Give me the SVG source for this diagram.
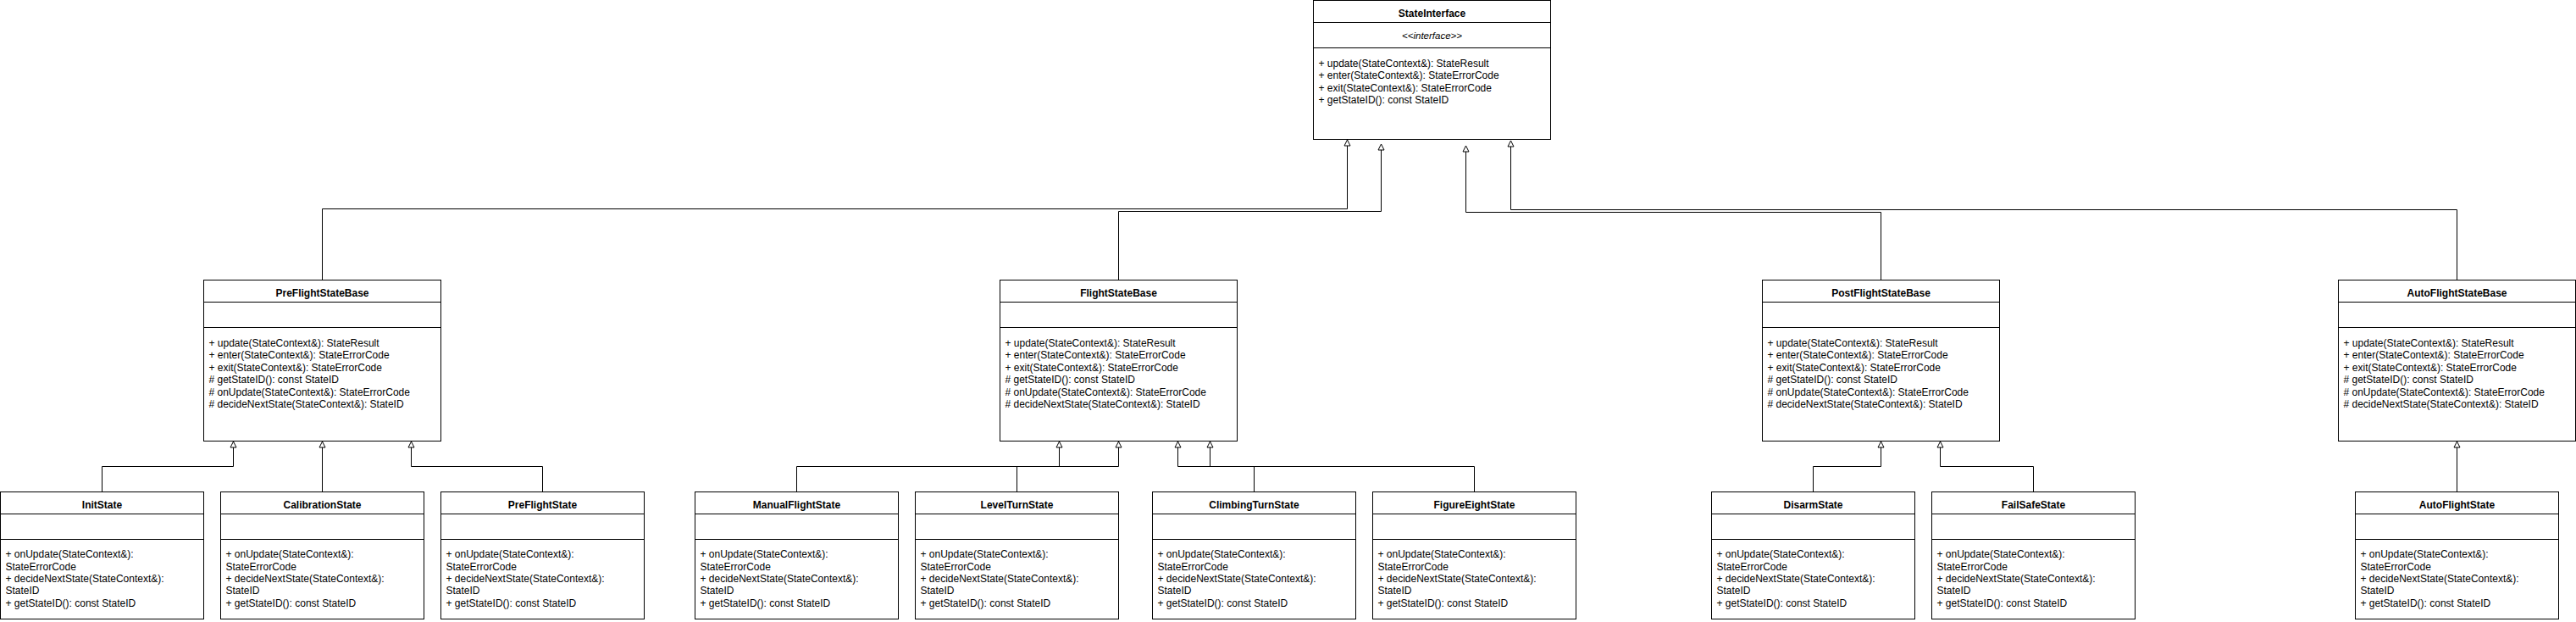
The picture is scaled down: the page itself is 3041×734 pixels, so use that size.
<svg xmlns="http://www.w3.org/2000/svg" width="3041" height="734" viewBox="0 0 3041 734">
<style>
.box{fill:#fff;stroke:#000;stroke-width:1}
.sep{stroke:#000;stroke-width:1;fill:none}
.t{font-family:"Liberation Sans",Arial,sans-serif;font-size:12px;fill:#000}
.title{font-weight:bold;text-anchor:middle}
.st{font-style:italic;text-anchor:middle;font-size:11.5px}
.conn path{fill:none;stroke:#000;stroke-width:1;marker-end:url(#tri)}
</style>
<defs>
<marker id="tri" markerUnits="userSpaceOnUse" viewBox="-8 -4.5 9 9" refX="0" refY="0" markerWidth="9" markerHeight="9" orient="auto">
<path d="M0,0 L-7,-3.5 L-7,3.5 Z" fill="#fff" stroke="#000" stroke-width="1"/>
</marker>
</defs>
<rect width="3041" height="734" fill="#fff"/>

<g id="StateInterface">
<rect class="box" x="1550.5" y="0.5" width="280" height="164"/>
<path class="sep" d="M1550.5 26.5H1830.5M1550.5 56.5H1830.5"/>
<text class="t title" x="1690.5" y="20">StateInterface</text>
<text class="t st" x="1690.5" y="45.5">&lt;&lt;interface&gt;&gt;</text>
<text class="t" x="1556.5" y="79">+ update(StateContext&amp;): StateResult</text>
<text class="t" x="1556.5" y="93.4">+ enter(StateContext&amp;): StateErrorCode</text>
<text class="t" x="1556.5" y="107.8">+ exit(StateContext&amp;): StateErrorCode</text>
<text class="t" x="1556.5" y="122.2">+ getStateID(): const StateID</text>
</g>

<g id="PreFlightStateBase">
<rect class="box" x="240.5" y="330.5" width="280" height="190"/>
<path class="sep" d="M240.5 356.5H520.5M240.5 386.5H520.5"/>
<text class="t title" x="380.5" y="349.5">PreFlightStateBase</text>
<text class="t" x="246.5" y="409">+ update(StateContext&amp;): StateResult</text>
<text class="t" x="246.5" y="423.4">+ enter(StateContext&amp;): StateErrorCode</text>
<text class="t" x="246.5" y="437.8">+ exit(StateContext&amp;): StateErrorCode</text>
<text class="t" x="246.5" y="452.2"># getStateID(): const StateID</text>
<text class="t" x="246.5" y="466.6"># onUpdate(StateContext&amp;): StateErrorCode</text>
<text class="t" x="246.5" y="481"># decideNextState(StateContext&amp;): StateID</text>
</g>

<g id="FlightStateBase">
<rect class="box" x="1180.5" y="330.5" width="280" height="190"/>
<path class="sep" d="M1180.5 356.5H1460.5M1180.5 386.5H1460.5"/>
<text class="t title" x="1320.5" y="349.5">FlightStateBase</text>
<text class="t" x="1186.5" y="409">+ update(StateContext&amp;): StateResult</text>
<text class="t" x="1186.5" y="423.4">+ enter(StateContext&amp;): StateErrorCode</text>
<text class="t" x="1186.5" y="437.8">+ exit(StateContext&amp;): StateErrorCode</text>
<text class="t" x="1186.5" y="452.2"># getStateID(): const StateID</text>
<text class="t" x="1186.5" y="466.6"># onUpdate(StateContext&amp;): StateErrorCode</text>
<text class="t" x="1186.5" y="481"># decideNextState(StateContext&amp;): StateID</text>
</g>

<g id="PostFlightStateBase">
<rect class="box" x="2080.5" y="330.5" width="280" height="190"/>
<path class="sep" d="M2080.5 356.5H2360.5M2080.5 386.5H2360.5"/>
<text class="t title" x="2220.5" y="349.5">PostFlightStateBase</text>
<text class="t" x="2086.5" y="409">+ update(StateContext&amp;): StateResult</text>
<text class="t" x="2086.5" y="423.4">+ enter(StateContext&amp;): StateErrorCode</text>
<text class="t" x="2086.5" y="437.8">+ exit(StateContext&amp;): StateErrorCode</text>
<text class="t" x="2086.5" y="452.2"># getStateID(): const StateID</text>
<text class="t" x="2086.5" y="466.6"># onUpdate(StateContext&amp;): StateErrorCode</text>
<text class="t" x="2086.5" y="481"># decideNextState(StateContext&amp;): StateID</text>
</g>

<g id="AutoFlightStateBase">
<rect class="box" x="2760.5" y="330.5" width="280" height="190"/>
<path class="sep" d="M2760.5 356.5H3040.5M2760.5 386.5H3040.5"/>
<text class="t title" x="2900.5" y="349.5">AutoFlightStateBase</text>
<text class="t" x="2766.5" y="409">+ update(StateContext&amp;): StateResult</text>
<text class="t" x="2766.5" y="423.4">+ enter(StateContext&amp;): StateErrorCode</text>
<text class="t" x="2766.5" y="437.8">+ exit(StateContext&amp;): StateErrorCode</text>
<text class="t" x="2766.5" y="452.2"># getStateID(): const StateID</text>
<text class="t" x="2766.5" y="466.6"># onUpdate(StateContext&amp;): StateErrorCode</text>
<text class="t" x="2766.5" y="481"># decideNextState(StateContext&amp;): StateID</text>
</g>

<g id="InitState">
<rect class="box" x="0.5" y="580.5" width="240" height="150"/>
<path class="sep" d="M0.5 606.5H240.5M0.5 636.5H240.5"/>
<text class="t title" x="120.5" y="599.5">InitState</text>
<text class="t" x="6.5" y="658.2">+ onUpdate(StateContext&amp;):</text>
<text class="t" x="6.5" y="672.6">StateErrorCode</text>
<text class="t" x="6.5" y="687">+ decideNextState(StateContext&amp;):</text>
<text class="t" x="6.5" y="701.4">StateID</text>
<text class="t" x="6.5" y="715.8">+ getStateID(): const StateID</text>
</g>

<g id="CalibrationState">
<rect class="box" x="260.5" y="580.5" width="240" height="150"/>
<path class="sep" d="M260.5 606.5H500.5M260.5 636.5H500.5"/>
<text class="t title" x="380.5" y="599.5">CalibrationState</text>
<text class="t" x="266.5" y="658.2">+ onUpdate(StateContext&amp;):</text>
<text class="t" x="266.5" y="672.6">StateErrorCode</text>
<text class="t" x="266.5" y="687">+ decideNextState(StateContext&amp;):</text>
<text class="t" x="266.5" y="701.4">StateID</text>
<text class="t" x="266.5" y="715.8">+ getStateID(): const StateID</text>
</g>

<g id="PreFlightState">
<rect class="box" x="520.5" y="580.5" width="240" height="150"/>
<path class="sep" d="M520.5 606.5H760.5M520.5 636.5H760.5"/>
<text class="t title" x="640.5" y="599.5">PreFlightState</text>
<text class="t" x="526.5" y="658.2">+ onUpdate(StateContext&amp;):</text>
<text class="t" x="526.5" y="672.6">StateErrorCode</text>
<text class="t" x="526.5" y="687">+ decideNextState(StateContext&amp;):</text>
<text class="t" x="526.5" y="701.4">StateID</text>
<text class="t" x="526.5" y="715.8">+ getStateID(): const StateID</text>
</g>

<g id="ManualFlightState">
<rect class="box" x="820.5" y="580.5" width="240" height="150"/>
<path class="sep" d="M820.5 606.5H1060.5M820.5 636.5H1060.5"/>
<text class="t title" x="940.5" y="599.5">ManualFlightState</text>
<text class="t" x="826.5" y="658.2">+ onUpdate(StateContext&amp;):</text>
<text class="t" x="826.5" y="672.6">StateErrorCode</text>
<text class="t" x="826.5" y="687">+ decideNextState(StateContext&amp;):</text>
<text class="t" x="826.5" y="701.4">StateID</text>
<text class="t" x="826.5" y="715.8">+ getStateID(): const StateID</text>
</g>

<g id="LevelTurnState">
<rect class="box" x="1080.5" y="580.5" width="240" height="150"/>
<path class="sep" d="M1080.5 606.5H1320.5M1080.5 636.5H1320.5"/>
<text class="t title" x="1200.5" y="599.5">LevelTurnState</text>
<text class="t" x="1086.5" y="658.2">+ onUpdate(StateContext&amp;):</text>
<text class="t" x="1086.5" y="672.6">StateErrorCode</text>
<text class="t" x="1086.5" y="687">+ decideNextState(StateContext&amp;):</text>
<text class="t" x="1086.5" y="701.4">StateID</text>
<text class="t" x="1086.5" y="715.8">+ getStateID(): const StateID</text>
</g>

<g id="ClimbingTurnState">
<rect class="box" x="1360.5" y="580.5" width="240" height="150"/>
<path class="sep" d="M1360.5 606.5H1600.5M1360.5 636.5H1600.5"/>
<text class="t title" x="1480.5" y="599.5">ClimbingTurnState</text>
<text class="t" x="1366.5" y="658.2">+ onUpdate(StateContext&amp;):</text>
<text class="t" x="1366.5" y="672.6">StateErrorCode</text>
<text class="t" x="1366.5" y="687">+ decideNextState(StateContext&amp;):</text>
<text class="t" x="1366.5" y="701.4">StateID</text>
<text class="t" x="1366.5" y="715.8">+ getStateID(): const StateID</text>
</g>

<g id="FigureEightState">
<rect class="box" x="1620.5" y="580.5" width="240" height="150"/>
<path class="sep" d="M1620.5 606.5H1860.5M1620.5 636.5H1860.5"/>
<text class="t title" x="1740.5" y="599.5">FigureEightState</text>
<text class="t" x="1626.5" y="658.2">+ onUpdate(StateContext&amp;):</text>
<text class="t" x="1626.5" y="672.6">StateErrorCode</text>
<text class="t" x="1626.5" y="687">+ decideNextState(StateContext&amp;):</text>
<text class="t" x="1626.5" y="701.4">StateID</text>
<text class="t" x="1626.5" y="715.8">+ getStateID(): const StateID</text>
</g>

<g id="DisarmState">
<rect class="box" x="2020.5" y="580.5" width="240" height="150"/>
<path class="sep" d="M2020.5 606.5H2260.5M2020.5 636.5H2260.5"/>
<text class="t title" x="2140.5" y="599.5">DisarmState</text>
<text class="t" x="2026.5" y="658.2">+ onUpdate(StateContext&amp;):</text>
<text class="t" x="2026.5" y="672.6">StateErrorCode</text>
<text class="t" x="2026.5" y="687">+ decideNextState(StateContext&amp;):</text>
<text class="t" x="2026.5" y="701.4">StateID</text>
<text class="t" x="2026.5" y="715.8">+ getStateID(): const StateID</text>
</g>

<g id="FailSafeState">
<rect class="box" x="2280.5" y="580.5" width="240" height="150"/>
<path class="sep" d="M2280.5 606.5H2520.5M2280.5 636.5H2520.5"/>
<text class="t title" x="2400.5" y="599.5">FailSafeState</text>
<text class="t" x="2286.5" y="658.2">+ onUpdate(StateContext&amp;):</text>
<text class="t" x="2286.5" y="672.6">StateErrorCode</text>
<text class="t" x="2286.5" y="687">+ decideNextState(StateContext&amp;):</text>
<text class="t" x="2286.5" y="701.4">StateID</text>
<text class="t" x="2286.5" y="715.8">+ getStateID(): const StateID</text>
</g>

<g id="AutoFlightState">
<rect class="box" x="2780.5" y="580.5" width="240" height="150"/>
<path class="sep" d="M2780.5 606.5H3020.5M2780.5 636.5H3020.5"/>
<text class="t title" x="2900.5" y="599.5">AutoFlightState</text>
<text class="t" x="2786.5" y="658.2">+ onUpdate(StateContext&amp;):</text>
<text class="t" x="2786.5" y="672.6">StateErrorCode</text>
<text class="t" x="2786.5" y="687">+ decideNextState(StateContext&amp;):</text>
<text class="t" x="2786.5" y="701.4">StateID</text>
<text class="t" x="2786.5" y="715.8">+ getStateID(): const StateID</text>
</g>

<g id="connectors" class="conn">
<path d="M380.5 330.5V246.5H1590.5V165"/>
<path d="M1320.5 330.5V249.5H1630.5V170"/>
<path d="M2220.5 330.5V250.5H1730.5V172"/>
<path d="M2900.5 330.5V247.5H1783.5V166"/>
<path d="M120.5 580.5V550.5H275.5V521"/>
<path d="M380.5 580.5V521"/>
<path d="M640.5 580.5V550.5H485.5V521"/>
<path d="M940.5 580.5V550.5H1250.5V521"/>
<path d="M1200.5 580.5V550.5H1320.5V521"/>
<path d="M1480.5 580.5V550.5H1390.5V521"/>
<path d="M1740.5 580.5V550.5H1428.5V521"/>
<path d="M2140.5 580.5V550.5H2220.5V521"/>
<path d="M2400.5 580.5V550.5H2290.5V521"/>
<path d="M2900.5 580.5V521"/>
</g>
</svg>
